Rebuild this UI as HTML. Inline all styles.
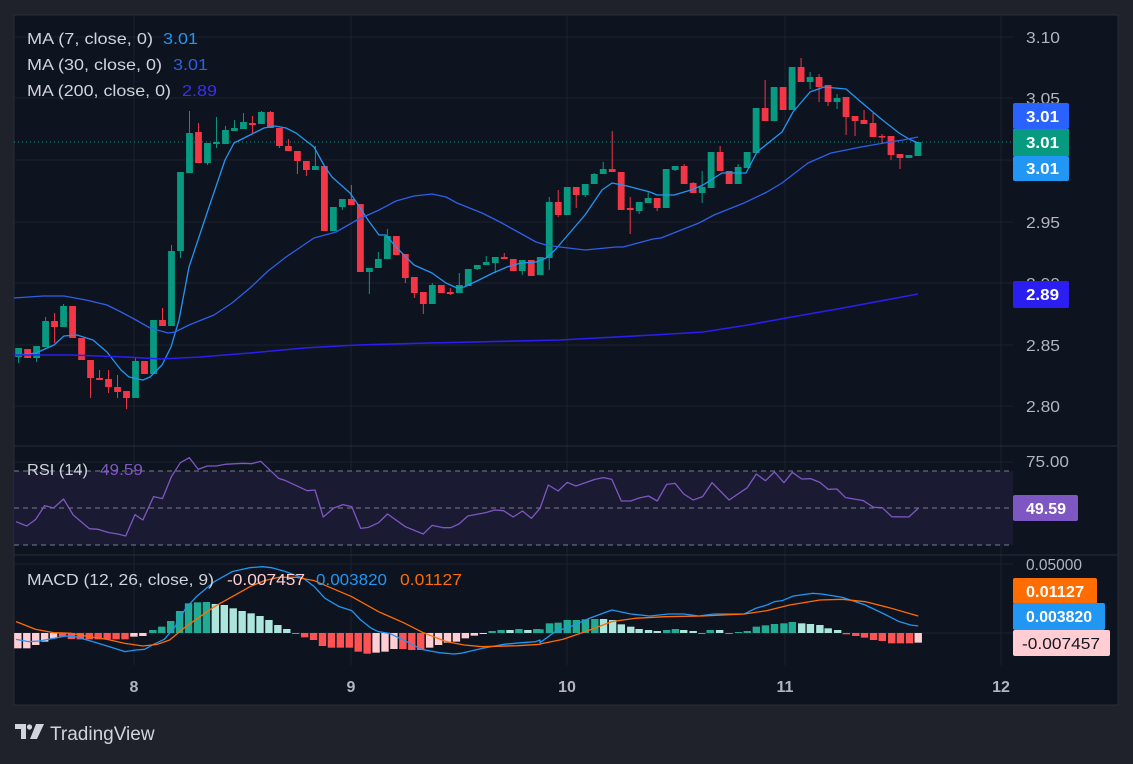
<!DOCTYPE html>
<html><head><meta charset="utf-8">
<style>
html,body{margin:0;padding:0;background:#1f222b;width:1133px;height:759px;overflow:hidden;font-family:"Liberation Sans",sans-serif;}
#wrap{position:absolute;left:0;top:0;width:1133px;height:759px;}
svg text{font-family:"Liberation Sans",sans-serif;}
</style></head>
<body>
<div id="wrap">
<svg id="s" width="1133" height="759" xmlns="http://www.w3.org/2000/svg">
<rect x="0" y="0" width="1133" height="759" fill="#1f222b"/>
<rect x="14" y="15" width="1104" height="690" fill="#0e1320" stroke="#2a2e39" stroke-width="1"/>
<g id="grid" stroke="#1c212d" stroke-width="1"></g>
<rect x="14" y="471" width="999" height="74" fill="#1a1a33"/>
<g stroke="#7a7e8a" stroke-width="1" stroke-dasharray="5,4">
<line x1="14" y1="471" x2="1013" y2="471"/>
<line x1="14" y1="508" x2="1013" y2="508"/>
<line x1="14" y1="545" x2="1013" y2="545"/>
</g>
<line x1="14" y1="446" x2="1117" y2="446" stroke="#2a2e39"/>
<line x1="14" y1="555" x2="1117" y2="555" stroke="#2a2e39"/>
<line x1="14" y1="142" x2="1013" y2="142" stroke="#089981" stroke-width="1" stroke-dasharray="1,3"/>
<g id="plot"></g>
<g font-size="16" fill="#d1d4dc" lengthAdjust="spacingAndGlyphs">
<text x="27" y="44" textLength="126" lengthAdjust="spacingAndGlyphs">MA (7, close, 0)</text><text x="163" y="44" fill="#2196f3" textLength="35" lengthAdjust="spacingAndGlyphs">3.01</text>
<text x="27" y="70" textLength="135" lengthAdjust="spacingAndGlyphs">MA (30, close, 0)</text><text x="173" y="70" fill="#2e5fe8" textLength="35" lengthAdjust="spacingAndGlyphs">3.01</text>
<text x="27" y="96" textLength="144" lengthAdjust="spacingAndGlyphs">MA (200, close, 0)</text><text x="182" y="96" fill="#3a2ef0" textLength="35" lengthAdjust="spacingAndGlyphs">2.89</text>
<text x="27" y="475" textLength="61" lengthAdjust="spacingAndGlyphs">RSI (14)</text><text x="100" y="475" fill="#7e57c2" textLength="43" lengthAdjust="spacingAndGlyphs">49.59</text>
<text x="27" y="585" textLength="187" lengthAdjust="spacingAndGlyphs">MACD (12, 26, close, 9)</text>
<text x="227" y="585" fill="#ffcdd2" textLength="78" lengthAdjust="spacingAndGlyphs">-0.007457</text>
<text x="316" y="585" fill="#2196f3" textLength="71" lengthAdjust="spacingAndGlyphs">0.003820</text>
<text x="400" y="585" fill="#ff6d00" textLength="62" lengthAdjust="spacingAndGlyphs">0.01127</text>
</g>
<g font-size="16" fill="#b2b5be">
<text x="1026" y="43" textLength="34" lengthAdjust="spacingAndGlyphs">3.10</text>
<text x="1026" y="104" textLength="34" lengthAdjust="spacingAndGlyphs">3.05</text>
<text x="1026" y="228" textLength="34" lengthAdjust="spacingAndGlyphs">2.95</text>
<text x="1026" y="289" textLength="34" lengthAdjust="spacingAndGlyphs">2.90</text>
<text x="1026" y="351" textLength="34" lengthAdjust="spacingAndGlyphs">2.85</text>
<text x="1026" y="412" textLength="34" lengthAdjust="spacingAndGlyphs">2.80</text>
<text x="1026" y="467" textLength="43" lengthAdjust="spacingAndGlyphs">75.00</text>
<text x="1026" y="570" textLength="56" lengthAdjust="spacingAndGlyphs">0.05000</text>
</g>
<g font-size="16" font-weight="bold" fill="#ffffff">
<rect x="1013" y="103" width="56" height="26" rx="2" fill="#2962ff"/><text x="1026" y="122" textLength="33" lengthAdjust="spacingAndGlyphs">3.01</text>
<rect x="1013" y="129" width="56" height="27" fill="#089981"/><text x="1026" y="148" textLength="33" lengthAdjust="spacingAndGlyphs">3.01</text>
<rect x="1013" y="156" width="56" height="25" rx="2" fill="#2196f3"/><text x="1026" y="174" textLength="33" lengthAdjust="spacingAndGlyphs">3.01</text>
<rect x="1013" y="281" width="56" height="27" rx="2" fill="#2a1ff0"/><text x="1026" y="300" textLength="33" lengthAdjust="spacingAndGlyphs">2.89</text>
<rect x="1013" y="495" width="65" height="26" rx="2" fill="#7e57c2"/><text x="1026" y="514" textLength="40" lengthAdjust="spacingAndGlyphs">49.59</text>
<rect x="1013" y="578" width="84" height="26" rx="2" fill="#ff6d00"/><text x="1026" y="597" textLength="58" lengthAdjust="spacingAndGlyphs">0.01127</text>
<rect x="1013" y="603" width="92" height="27" rx="2" fill="#2196f3"/><text x="1026" y="622" textLength="66" lengthAdjust="spacingAndGlyphs">0.003820</text>
<rect x="1013" y="630" width="97" height="26" rx="2" fill="#ffcdd2"/><text x="1022" y="649" fill="#131722" font-weight="normal" textLength="78" lengthAdjust="spacingAndGlyphs">-0.007457</text>
</g>
<g font-size="16" fill="#b2b5be" text-anchor="middle" font-weight="bold">
<text x="134" y="692">8</text><text x="351" y="692">9</text><text x="567" y="692">10</text><text x="785" y="692">11</text><text x="1001" y="692">12</text>
</g>
<g fill="#d1d4dc">
<path d="M15 724 H26 V739 H21 V729 H15 Z"/>
<circle cx="29.5" cy="727" r="2.6"/>
<path d="M36 724 H44 L37 739 H30 Z"/>
</g>
<text x="50" y="740" font-size="19" fill="#d1d4dc">TradingView</text>
</svg>
</div>
<script>
const NS="http://www.w3.org/2000/svg";
const g=document.getElementById('grid'),p=document.getElementById('plot');
function el(par,t,a){const e=document.createElementNS(NS,t);for(const k in a)e.setAttribute(k,a[k]);par.appendChild(e);return e;}
[37,98,160,222,283,345,406].forEach(y=>el(g,'line',{x1:14,y1:y,x2:1013,y2:y}));
[462,564,633].forEach(y=>el(g,'line',{x1:14,y1:y,x2:1013,y2:y}));
[134,351,567,785,1001].forEach(x=>el(g,'line',{x1:x,y1:15,x2:x,y2:665}));
const C=[
['g',348,357,348,363],['r',349,358],['g',346,358,346,362],['g',321,347,317,347],['r',321,327,313,343],['g',306,327,304,327],['r',306,338],['r',338,360],['r',360,378,360,398],['r',378,380,370,380],
['r',379,387,370,393],['r',387,392,375,398],['r',391,398,391,409],['g',361,398,357,398],['r',361,374],['g',320,374],['r',320,326,308,326],['g',251,326,245,326],['g',172,251,172,258],['g',133,173,111,173],
['r',132,163,123,163],['g',143,163,143,165],['g',142,144,117,148],['g',130,144,126,144],['g',128,131,120,131],['g',122,129,113,129],['r',123,125,116,133],['g',112,124,111,124],['r',112,128,111,128],['r',128,146,128,148],
['r',146,151,139,151],['r',151,161,151,174],['r',161,170,161,176],['g',166,170,146,170],['r',166,231],['g',207,231],['g',199,207,199,210],['r',199,205,185,205],['r',204,272],['g',268,272,268,294],
['g',259,268,252,268],['g',236,259,229,259],['r',236,255],['r',254,278,254,283],['r',277,293,277,298],['r',292,304,292,314],['g',285,304,283,304],['r',285,293],['r',292,294,288,295],['g',285,293,273,293],
['g',269,286],['g',265,269,265,270],['g',262,265,256,265],['g',257,263,257,273],['r',257,259,253,259],['r',259,271],['g',260,271,260,275],['r',260,276],
['g',257,275,257,269],['g',202,258,197,270],['r',202,215,190,217],['g',187,215],['r',187,195,187,208],['g',184,195,184,197],['g',174,184,173,184],['g',169,174,162,174],['r',169,172,131,172],['r',172,210],
['r',208,210,197,234],['g',202,211,202,214],['g',198,203,192,203],['r',198,208,198,211],['g',169,208],['g',166,170,166,171],['r',166,184,164,184],['r',183,193,182,193],['g',187,193,171,203],['g',152,188],
['r',152,171,146,171],['r',171,184],['g',167,184,164,184],['g',152,168],['g',108,153],['r',108,121,80,121],['g',87,121],['r',87,110],['g',67,110],['r',67,82,58,82],
['g',77,82,72,89],['r',77,87,74,102],['r',85,102,85,106],['g',98,102,94,109],['r',97,117,97,135],['r',116,121,116,136],['r',120,124,110,124],['r',123,137,113,137],['r',136,137.5,134,143],['r',136,155,136,160],
['r',154,158,154,169],['g',155,158,155,158],['g',142,156]];
const step=(918-18.6)/(C.length-1);
C.forEach((c,i)=>{const x=18.6+step*i;const col=c[0]=='g'?'#089981':'#f23645';
 const t=c[1],b=Math.max(c[2],c[1]+1.5);const wt=c[3]!==undefined?c[3]:t,wb=c[4]!==undefined?c[4]:b;
 el(p,'line',{x1:x,y1:wt,x2:x,y2:wb,stroke:col,'stroke-width':1});
 el(p,'rect',{x:x-3.4,y:t,width:6.8,height:b-t,fill:col});});
function line(pts,col,w){el(p,'polyline',{points:pts.map(q=>q.join(',')).join(' '),fill:'none',stroke:col,'stroke-width':w||1.3,'stroke-linejoin':'round'});}
line([[18,355],[36,353],[54,345],[64,336],[77,335],[93,340],[107,352],[121,370],[129,377],[143,380],[150,377],[162,365],[171,347],[179,320],[189,267],[207,213],[225,160],[234,143],[250,135],[264,128],[275,126],[286,128],[296,133],[314,147],[325,167],[332,177],[350,193],[357,203],[368,220],[379,235],[386,235],[396,247],[414,265],[432,273],[446,283],[457,288],[464,287],[479,280],[493,273],[507,267],[521,263],[536,262],[546,258],[555,250],[585,215],[602,190],[612,183],[627,186],[650,192],[657,195],[674,195],[691,190],[703,185],[722,173],[746,173],[757,152],[782,132],[793,112],[810,92],[824,87],[846,89],[861,102],[880,118],[899,133],[909,139],[918,143]],'#2196f3');
line([[14,298],[43,296],[64,296],[86,300],[107,305],[121,312],[136,320],[150,328],[168,333],[175,332],[189,325],[214,315],[232,303],[250,288],[268,271],[286,257],[314,238],[336,232],[357,220],[379,210],[396,201],[414,196],[432,194],[446,197],[457,203],[482,213],[500,222],[518,232],[536,242],[546,245],[560,247],[585,250],[616,247],[623,247],[653,239],[661,238],[699,223],[714,215],[744,203],[767,192],[782,183],[808,163],[831,153],[861,147],[884,143],[903,140],[918,137]],'#2e5fe8');
line([[14,355],[71,355],[125,357],[161,359],[200,357],[250,353],[304,348],[357,345],[429,343],[560,340],[653,335],[703,332],[748,325],[786,318],[843,308],[918,294]],'#2a1ff0',1.6);
const r1=[[45,245],[75,258],[100,238],[125,197],[150,204],[178,177],[205,225],[250,266],[275,268],[305,278],[330,282],[352,288],[378,224],[400,240],[430,170],[455,176],[480,110],[505,68],[530,53],[555,88],[580,78],[605,78],[630,73],[680,70],[705,71],[730,64],[780,115],[800,122],[860,152],[882,150],[905,231],[935,204],[960,194],[985,200],[1010,265],[1032,262],[1060,248],[1085,222],[1135,260],[1185,282],[1210,256],[1240,263],[1262,263],[1285,252],[1310,228],[1360,218],[1385,210],[1410,212],[1437,231],[1463,213],[1488,235],[1512,205]].map(q=>[q[0]/2.8,440+q[1]/3]);
const r2=[[0,205],[22,135],[48,153],[72,127],[95,138],[145,118],[168,113],[190,118],[215,183],[240,183],[262,174],[287,168],[310,183],[335,133],[357,130],[380,162],[405,180],[430,170],[455,128],[500,180],[548,143],[572,102],[596,122],[620,96],[645,128],[667,97],[692,117],[715,116],[740,127],[762,148],[785,147],[808,173],[855,182],[882,202],[905,203],[930,230],[975,231],[1000,205]].map(q=>[540+q[0]/2.644,440+q[1]/3]);
line(r1.concat(r2),'#7e57c2',1.3);
const H1=[[50,625,'p'],[75,625,'p'],[100,615,'p'],[125,605,'p'],[150,595,'p'],[175,590,'r'],[200,597,'r'],[225,598,'r'],[250,598,'r'],[275,598,'r'],[300,598,'r'],[325,598,'r'],[350,598,'r'],[375,590,'p'],[400,588,'p'],[428,570,'t'],[453,560,'t'],[478,543,'t'],[503,513,'t'],[528,490,'t'],[553,487,'t'],[578,486,'t'],[603,492,'l'],[628,495,'l'],[653,505,'l'],[678,513,'l'],[703,520,'l'],[728,528,'l'],[753,540,'l'],[778,555,'l'],[803,567,'l'],[828,582,'r'],[853,592,'r'],[878,600,'r'],[903,618,'r'],[928,623,'r'],[953,623,'r'],[978,623,'r'],[1003,635,'r'],[1028,641,'r'],[1053,638,'p'],[1078,635,'p'],[1103,627,'p'],[1128,627,'r'],[1153,630,'r'],[1178,630,'r'],[1203,623,'p'],[1228,615,'p'],[1253,608,'p'],[1278,605,'p'],[1303,595,'p'],[1328,587,'p'],[1353,582,'p'],[1378,573,'t'],[1403,570,'t'],[1428,570,'l'],[1453,567,'t'],[1478,570,'l'],[1503,567,'t']].map(q=>[q[0]/2.8,q[1],q[2]]);
const H2=[[0,568,'t'],[25,550,'t'],[48,548,'t'],[72,540,'t'],[96,540,'t'],[120,538,'t'],[145,537,'t'],[168,537,'l'],[192,540,'l'],[215,553,'l'],[240,560,'l'],[262,567,'l'],[287,570,'l'],[310,573,'l'],[335,570,'t'],[358,567,'t'],[380,570,'l'],[405,573,'l'],[428,580,'r'],[450,570,'t'],[475,570,'l'],[500,580,'r'],[525,576,'t'],[548,573,'t'],[572,560,'t'],[596,556,'t'],[620,552,'t'],[645,550,'t'],[667,546,'t'],[692,550,'l'],[715,552,'l'],[740,555,'l'],[762,565,'l'],[787,570,'l'],[810,583,'r'],[835,588,'r'],[858,593,'r'],[882,600,'r'],[905,603,'r'],[930,610,'r'],[953,610,'r'],[977,610,'r'],[1000,608,'p']].map(q=>[540+q[0]/2.644,q[1],q[2]]);
const cm={p:'#ffcdd2',r:'#ff5252',t:'#22ab94',l:'#ace5dc'};
H1.concat(H2).forEach(h=>{const y=440+h[1]/3;const t=Math.min(y,633),b=Math.max(y,633);
 el(p,'rect',{x:h[0]-3.7,y:t,width:7.4,height:Math.max(b-t,1),fill:cm[h[2]]});});
const m1=[[45,598],[80,605],[110,603],[150,595],[185,588],[210,590],[260,605],[300,618],[350,635],[380,630],[405,628],[430,613],[460,598],[490,560],[520,505],[550,470],[600,425],[650,395],[700,383],[735,380],[760,383],[800,395],[850,415],[880,440],[910,475],[950,500],[985,512],[1010,540],[1040,565],[1060,575],[1090,580],[1130,600],[1180,628],[1230,638],[1270,642],[1290,640],[1350,625],[1410,613],[1460,608],[1500,605],[1512,600]].map(q=>[q[0]/2.8,440+q[1]/3]);
const m2=[[0,608],[40,575],[80,560],[130,535],[190,510],[240,522],[290,528],[340,522],[380,522],[420,528],[460,522],[540,522],[570,505],[600,495],[620,485],[640,482],[670,468],[720,460],[745,462],[800,472],[860,495],[910,522],[950,545],[980,555],[1000,558]].map(q=>[540+q[0]/2.644,440+q[1]/3]);
line(m1.concat(m2),'#2196f3',1.3);
const s1=[[45,545],[100,568],[150,578],[200,580],[250,590],[300,598],[350,610],[400,618],[440,613],[475,600],[520,560],[560,530],[600,500],[650,470],[700,440],[740,422],[780,412],[830,412],[880,422],[930,445],[985,470],[1060,515],[1130,548],[1185,578],[1250,605],[1300,615],[1350,620],[1450,617],[1512,613]].map(q=>[q[0]/2.8,440+q[1]/3]);
const s2=[[0,612],[60,598],[120,575],[190,545],[250,535],[330,530],[430,528],[540,522],[600,512],[660,495],[740,480],[800,478],[860,485],[920,502],[1000,528]].map(q=>[540+q[0]/2.644,440+q[1]/3]);
line(s1.concat(s2),'#ff6d00',1.3);
</script>
</body></html>
